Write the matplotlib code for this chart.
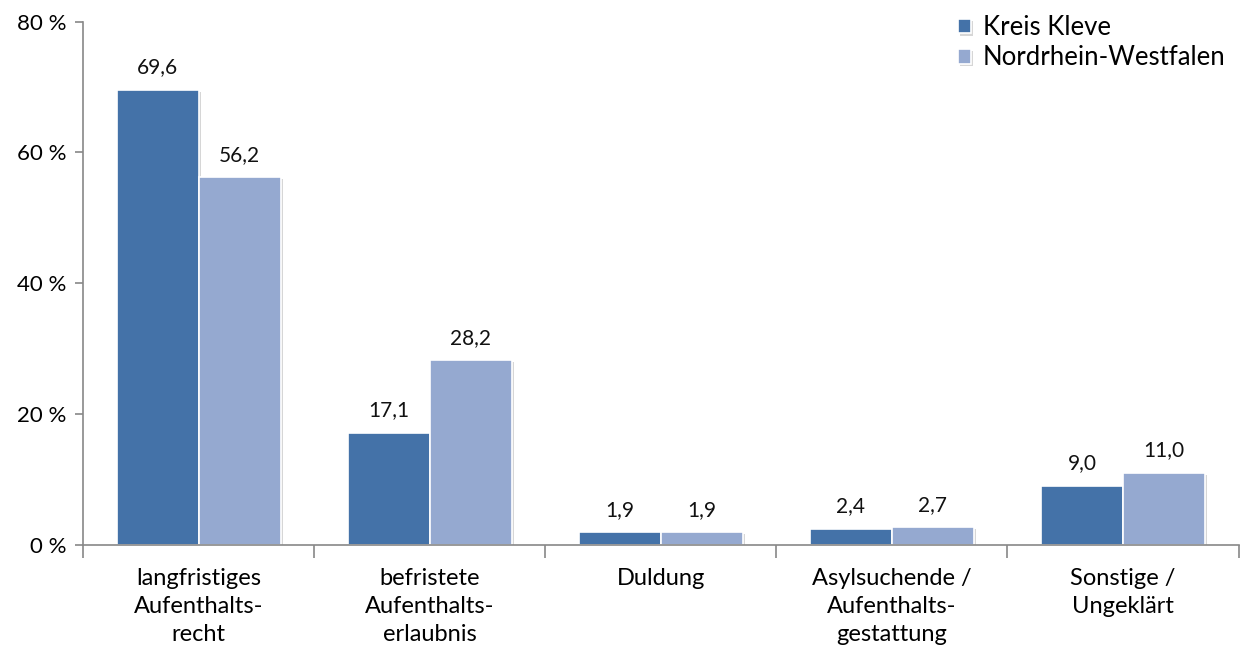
import matplotlib.pyplot as plt
import matplotlib.patheffects as pe
import numpy as np

plt.rcParams['font.family'] = ['Lato', 'DejaVu Sans']

categories = ['langfristiges\nAufenthalts-\nrecht', 'befristete\nAufenthalts-\nerlaubnis',
              'Duldung', 'Asylsuchende /\nAufenthalts-\ngestattung', 'Sonstige /\nUngeklärt']
kleve = [69.6, 17.1, 1.9, 2.4, 9.0]
nrw = [56.2, 28.2, 1.9, 2.7, 11.0]
series_names = ['Kreis Kleve', 'Nordrhein-Westfalen']
colors = ['#4472a8', '#95a9d0']

fig = plt.figure(figsize=(12.41, 6.54), dpi=100)
ax = fig.add_axes([0.067, 0.167, 0.931, 0.8])

x = np.arange(len(categories))
w = 0.355
shadow = [pe.SimplePatchShadow(offset=(1.5, -1.5), shadow_rgbFace='#bbbbbb', alpha=0.6), pe.Normal()]
for i, (vals, name, c) in enumerate(zip([kleve, nrw], series_names, colors)):
    bars = ax.bar(x + (i - 0.5) * w, vals, w, color=c, edgecolor='white', linewidth=1.2,
                  label=name, path_effects=shadow)
    for b, v in zip(bars, vals):
        ax.annotate(f'{v:.1f}'.replace('.', ','), (b.get_x() + b.get_width() / 2, v),
                    xytext=(0, 9), textcoords='offset points', ha='center', va='bottom',
                    fontsize=15, color='#111111')

ax.set_xlim(-0.5, len(categories) - 0.5)
ax.set_ylim(0, 80)
ax.set_yticks([0, 20, 40, 60, 80])
ax.set_yticklabels(['0 %', '20 %', '40 %', '60 %', '80 %'], fontsize=16)
ax.set_xticks(x)
ax.set_xticklabels(categories, fontsize=17, linespacing=1.4)
ax.set_xticks(np.arange(len(categories) + 1) - 0.5, minor=True)
ax.tick_params(axis='x', which='major', length=0, pad=17)
ax.tick_params(axis='x', which='minor', length=9, color='#888888', width=1.2)
ax.tick_params(axis='y', length=6, color='#888888', width=1.2, pad=6)

for s in ['top', 'right']:
    ax.spines[s].set_visible(False)
for s in ['left', 'bottom']:
    ax.spines[s].set_color('#888888')
    ax.spines[s].set_linewidth(1.2)

fig.legend(loc='upper right', bbox_to_anchor=(1.006, 1.012), frameon=False, fontsize=18.5,
           handlelength=0.5, handleheight=0.5, handletextpad=0.45, labelspacing=0.2)

fig.savefig('out.png', dpi=100)
